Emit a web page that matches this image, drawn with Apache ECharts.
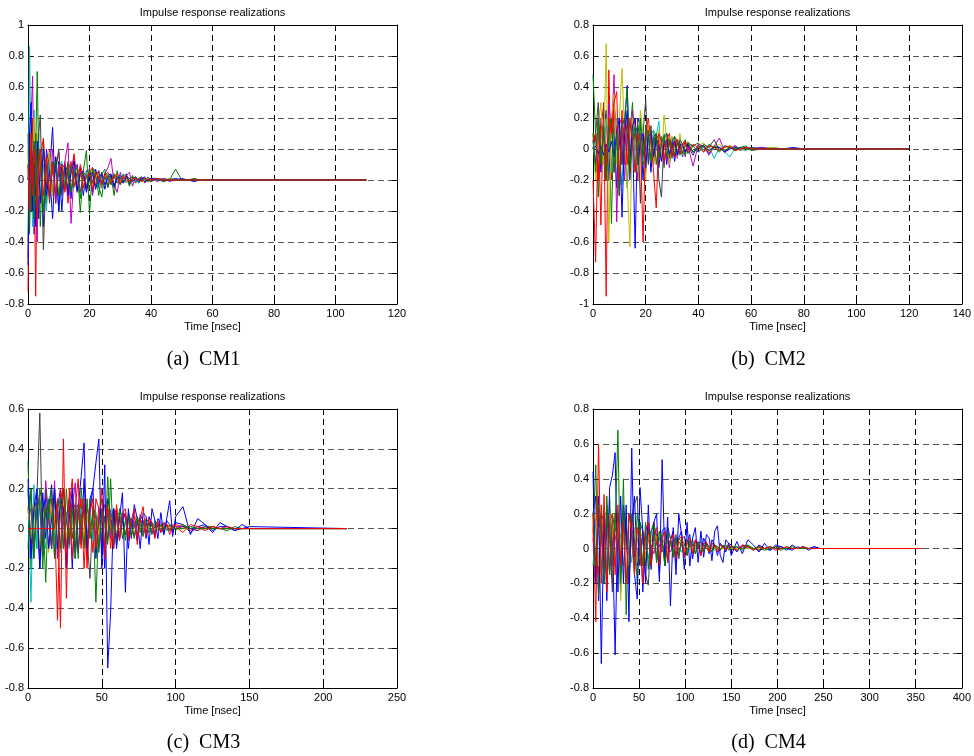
<!DOCTYPE html>
<html><head><meta charset="utf-8">
<script src="https://cdn.jsdelivr.net/npm/echarts/dist/echarts.min.js"></script>
<style>html,body{margin:0;padding:0;background:#fff}#c{width:974px;height:756px}</style>
</head><body><div id="c"></div>
<script>
// ---------- time grids (ns) ----------
const t_cm1 = [0,0.5,1,1.5,2,2.5,3,3.5,4,5,6,7,8,9,10,11,12,13,14,15,16,17,18,19,20,21,22,23,24,25,26,27,28,29,30,31,32,33,34,35,36,37,38,39,40,42,44,46,48,50,52,54,56,58,60,110];
const t_cm2 = [0,1,2,3,4,5,6,7,8,9,10,11,12,13,14,15,16,17,18,19,20,21,22,23,24,25,26,27,28,29,30,31,32,33,34,35,36,38,40,42,44,46,48,50,52,54,56,58,60,64,68,72,76,80,120];
const t_cm3 = [0,2,4,6,8,10,12,14,16,18,20,22,24,26,28,30,32,34,36,38,40,42,44,46,48,50,52,54,56,58,60,62,64,66,68,70,72,74,76,78,80,82,84,86,88,90,92,94,96,98,100,105,110,115,120,125,130,135,140,145,150,216];
const t_cm4 = [0,3,6,9,12,15,18,21,24,27,30,33,36,39,42,45,48,51,54,57,60,63,66,69,72,75,78,81,84,87,90,93,96,99,102,105,108,111,114,117,120,123,126,129,132,135,138,141,144,147,150,156,162,168,174,180,186,192,198,204,210,216,222,228,234,240,246,357];

// ---------- CM1 realizations ----------
const cm1_r1 = [0,.15,-.2,.3,-.35,.2,.1,-.25,.15,-.3,.2,.05,.34,-.15,.12,-.2,.1,.05,-.12,.15,-.05,.08,-.1,.06,.04,-.08,.07,-.03,.05,-.06,.03,.04,-.05,.02,.03,-.02,.04,-.03,.01,.02,-.02,.01,.02,-.01,.01,.01,-.01,.01,0,.01,0,-.01,0,0,0,0];
const cm1_r2 = [.1,-.2,.25,-.1,.35,.2,.7,.1,-.3,.25,-.15,.2,-.1,.15,-.2,.1,-.05,.12,-.08,.05,.1,-.12,.06,.19,-.22,.08,.05,-.1,.04,.07,-.05,.03,-.1,.06,-.03,.04,.02,-.04,.03,-.02,.01,.02,-.01,.02,-.01,.01,-.01,0,.07,0,0,.01,0,0,0,0];
const cm1_r3 = [-.72,.3,-.1,.4,.1,-.75,.2,-.1,.15,.27,-.05,.2,-.1,.1,.18,-.08,.12,-.15,.05,.17,-.06,.1,.02,-.07,.05,.08,-.04,.06,-.02,.03,.05,-.03,.02,.04,-.02,.01,.03,-.01,.02,0,.01,-.01,.01,0,.01,0,.01,0,0,0,0,0,0,0,0,0];
const cm1_r4 = [-.4,.86,.1,-.3,.45,-.2,.1,.3,-.15,.1,-.2,.15,.05,-.1,.08,.12,-.06,.04,.1,-.05,.03,.06,-.04,.05,-.02,.04,.03,-.05,.02,.03,-.02,.01,.04,-.01,.02,.01,-.02,.01,.02,0,-.01,.01,0,.01,0,0,.01,0,0,0,0,0,0,0,0,0];
const cm1_r5 = [-.5,.2,.4,.67,-.1,.3,-.4,.2,.1,-.2,.15,-.1,.2,-.15,.1,-.05,.12,.24,-.28,.05,.1,-.08,.04,-.05,.08,-.1,.03,.06,-.05,.04,.08,.14,-.03,-.08,.05,-.02,.03,.05,-.04,.02,-.01,.02,-.02,.01,.01,-.01,.01,-.01,0,0,0,0,0,0,0,0];
const cm1_r6 = [.2,-.3,.35,.15,.4,-.2,.3,-.1,.2,-.15,.1,.18,-.1,.08,-.12,.1,.05,-.08,.06,.1,-.04,.05,-.06,.03,.07,-.03,.02,.05,-.04,.02,.03,-.02,.01,.03,-.01,.02,-.02,.01,.01,0,.01,-.01,0,.01,0,0,0,.01,0,0,0,0,0,0,0,0];
const cm1_r7 = [0,.1,-.2,.15,.25,-.1,.1,.3,.42,-.45,.1,-.15,.12,.05,.2,-.1,.08,-.06,.1,.04,-.08,.06,.03,-.05,.07,-.02,.04,.05,-.03,.02,-.04,.03,.02,-.02,.01,.03,-.01,.01,.02,-.01,.01,0,.01,0,-.01,.01,0,0,0,0,0,0,0,0,0,0];
const cm1_r8 = [-.55,.3,.5,-.2,.1,-.3,.25,.1,-.15,.2,-.1,.05,-.25,.15,-.2,.1,.08,-.1,.05,.12,-.07,.04,.06,-.08,.03,.05,-.06,.02,.04,-.03,.02,.03,-.04,.02,.01,-.02,.02,.01,-.01,.01,0,.01,-.01,0,.01,0,0,0,.01,0,0,0,0,0,0,0];
const cm1_r9 = [.3,-.35,.2,.1,-.25,.3,-.15,.2,.1,-.2,.15,-.1,.08,.12,-.1,.06,-.05,.1,-.08,.04,.08,-.21,.05,.03,-.06,.07,.02,-.04,-.11,.05,.03,-.03,.04,.02,-.03,.01,.02,-.02,.01,.02,-.01,0,.01,-.01,0,.01,0,0,0,0,0,0,0,0,0,0];
const cm1_r10 = [.1,-.2,.3,-.1,.2,.15,-.25,.1,.2,-.1,.15,-.12,.1,-.1,.05,.1,-.08,.06,.12,-.04,.05,.07,-.05,.03,.04,-.06,.05,.02,-.03,.04,.01,-.02,.03,.01,-.02,.02,.01,-.01,.01,.01,0,-.01,.01,0,0,.01,0,0,0,0,0,0,0,0,0,0];

// ---------- CM2 realizations ----------
const cm2_r1 = [.05,-.1,.2,-.15,.1,.25,-.2,.15,.1,-.25,.2,-.1,.15,.41,-.2,.1,-.64,.2,.15,-.2,.1,.12,-.15,.08,.1,-.12,.05,.09,-.1,.06,.04,-.08,.06,.03,-.05,.04,.02,-.04,.03,.02,-.03,.02,.01,-.02,.01,.02,-.01,.01,0,.01,0,0,.01,0,0];
const cm2_r2 = [.48,.1,-.31,.15,.27,-.1,.2,-.48,.25,.1,-.3,.2,.15,-.25,.1,.3,-.15,.1,.2,-.1,.15,-.08,.1,.12,-.1,.05,.08,-.12,.1,.04,-.06,.08,.05,-.04,.03,.06,-.03,.02,.04,-.02,.03,.01,-.02,.02,.01,-.01,.01,.02,-.01,0,.01,0,0,0,0];
const cm2_r3 = [-.2,-.73,.2,-.49,.3,-.95,.51,-.2,.3,.1,-.3,.25,-.1,.2,-.15,.1,.2,-.2,.1,.05,-.15,.12,.08,-.1,.06,.1,-.08,.05,-.06,.04,.07,-.05,.03,.04,-.03,.02,.03,-.02,.02,.01,-.02,.01,.01,-.01,.01,0,.01,0,0,0,0,0,0,0,0];
const cm2_r4 = [0,.1,-.05,.15,-.1,.2,.05,-.15,.1,.2,-.1,-.23,.15,.1,-.12,.2,-.1,.05,.12,-.08,.1,.05,-.06,.12,.08,.18,-.05,.1,.06,-.04,.08,.03,-.05,.04,.02,-.03,.03,.02,-.02,.01,.02,-.06,.01,-.02,-.05,.01,0,-.01,.01,0,0,0,0,0,0];
const cm2_r5 = [.05,.1,-.15,.2,.1,-.2,.3,.1,.48,-.47,.2,.15,-.2,.1,-.1,.25,.05,-.15,.1,.08,-.1,.15,.05,-.08,.1,-.05,.06,-.1,.04,-.12,.05,.03,-.06,.04,-.03,.05,.02,-.11,.03,.02,-.04,.02,.07,-.02,.01,.02,-.01,.01,0,.01,0,0,0,0,0];
const cm2_r6 = [.1,-.2,.15,.3,-.1,.68,-.6,.2,.35,-.1,.2,.52,.1,-.2,-.63,.2,.1,-.15,.25,.1,-.2,.15,.05,-.1,.1,.12,-.08,.22,.05,-.1,.08,.06,-.05,.1,-.04,.03,.05,-.03,.02,.04,-.02,.01,.03,-.01,.02,.01,-.01,.01,0,0,.01,0,0,0,0];
const cm2_r7 = [0,.1,.3,-.1,.15,-.2,.1,.2,-.15,.1,.05,-.1,.2,.1,-.15,.05,.1,.15,-.35,.1,.32,-.1,.15,-.05,.1,-.2,-.31,.08,.1,-.06,.05,.08,-.04,.06,.03,-.05,.04,.02,-.02,.03,.01,.06,-.01,.02,.01,-.01,.01,0,.01,0,0,0,0,0,0];
const cm2_r8 = [0,.02,-.03,.02,-.04,.03,-.02,.05,-.05,.1,.2,-.44,.1,.25,-.1,.15,.2,-.1,.05,.1,-.12,.08,.1,-.05,.06,.03,-.08,.04,.06,-.03,.02,.05,-.04,.03,.02,-.02,.03,-.02,.01,.02,-.01,.01,.01,-.02,0,.01,0,.01,0,0,0,0,0,0,0];
const cm2_r9 = [.1,-.15,.2,-.1,.15,-.2,.1,.2,-.15,.1,-.3,.15,.2,.39,-.1,.05,.15,-.1,.2,-.05,.1,.12,-.08,.05,.1,-.06,.04,.08,-.05,.06,.03,-.04,.05,.02,-.03,.02,.04,-.02,.01,.02,-.01,.02,0,-.01,.01,0,.01,0,0,0,0,0,0,0,0];
const cm2_r10 = [.05,.1,-.2,.15,.1,-.1,.2,.1,.3,.37,-.2,.1,.15,-.1,.2,.05,-.15,.1,.05,-.6,.1,.2,.05,-.15,-.38,.1,.05,-.08,.06,.1,-.05,.04,.06,-.03,.02,.05,-.02,.03,.01,-.02,.02,.01,-.01,.01,.02,-.01,0,.01,0,0,0,0,0,0,0];

// ---------- CM3 realizations ----------
const cm3_r1 = [.2,-.1,.15,.1,-.2,.18,-.05,.1,.22,-.15,.1,.2,-.1,.05,.15,-.2,.1,.12,-.08,.25,-.1,.15,.2,-.15,.05,.1,-.2,.15,.08,-.1,.1,-.05,.08,.06,-.1,.05,.03,-.06,.07,.04,-.05,.06,.02,-.04,.05,.03,-.03,.04,.02,-.02,.03,.02,-.02,.01,.02,-.01,.01,.01,-.01,0,.01,0];
const cm3_r2 = [.34,-.2,.15,-.1,.2,.1,-.27,.15,-.1,.2,-.15,.1,.2,-.1,.15,-.05,.1,-.15,.2,.05,-.1,.15,.1,-.37,.05,.15,-.1,.26,-.05,.1,-.08,.1,.05,-.06,.08,.03,-.05,.06,.02,-.04,.05,.03,-.03,.04,.02,-.02,.03,-.01,.02,.01,-.01,.02,0,-.01,.01,.01,0,-.01,.01,0,0,0];
const cm3_r3 = [.1,-.1,.15,.05,-.12,.1,.08,-.1,.15,.05,-.46,.2,.1,-.15,.12,.25,-.1,.05,.15,-.2,.1,.05,-.12,.15,.1,-.08,.05,.12,-.1,.06,.1,-.06,.05,.08,-.05,.04,.06,-.03,.05,.02,-.03,.04,.02,-.02,.03,.01,-.02,.02,.01,-.01,.02,.01,-.01,.01,0,.01,0,0,0,0,0,0];
const cm3_r4 = [.21,-.37,.22,-.1,.15,.05,-.1,.08,.05,-.05,.15,-.12,.1,.08,-.1,.12,-.05,.08,.1,-.08,.05,.08,-.06,.04,.07,-.05,.03,.06,-.04,.02,.04,-.03,.02,.03,-.02,.01,.03,-.02,.01,.02,-.01,.01,.02,-.01,.01,0,.01,-.01,0,.01,0,0,.01,0,0,0,0,0,0,0,0,0];
const cm3_r5 = [.05,.1,-.15,.2,.1,-.1,.24,.05,-.1,.24,-.15,.1,.05,-.2,.15,.1,.23,-.1,.05,.12,-.1,.08,.15,-.05,.1,-.12,.06,.08,-.05,.1,.05,-.06,.04,.07,-.03,.05,.02,-.04,.03,.04,-.02,.03,.01,-.02,.02,.01,-.01,.02,0,-.01,.01,.01,0,-.01,.01,0,0,0,0,0,0,0];
const cm3_r6 = [.1,-.05,.12,.08,-.1,.05,.12,-.12,.1,.05,-.08,.1,.06,-.05,.08,.04,-.06,.1,.05,-.04,.06,-.05,.04,.07,-.03,.05,.02,-.04,.06,.03,-.03,.04,.02,-.02,.03,.01,-.02,.02,.01,-.01,.02,.01,-.01,.01,0,.01,-.01,0,.01,0,0,0,0,0,0,0,0,0,0,0,0,0];
const cm3_r7 = [.1,.2,-.1,.15,.58,-.14,.2,.05,-.1,.15,.1,-.1,.2,.05,-.08,.15,.1,-.12,.05,.1,-.05,-.25,.1,.05,-.1,.08,.12,-.06,.05,.1,-.05,.06,.04,-.03,.05,.02,-.04,.03,.05,-.02,.02,.03,-.02,.01,.02,-.01,.01,.01,-.01,.01,0,.01,0,0,.01,0,0,0,0,0,0,0];
const cm3_r8 = [.25,-.15,.1,.2,-.2,.1,.15,-.1,.05,.2,-.1,.15,.1,-.2,.05,.2,-.15,.1,.26,.43,-.15,.1,.2,.33,.45,-.2,.32,-.7,-.42,.1,-.1,.05,.18,-.32,.1,-.05,.12,.05,-.1,.08,.06,-.08,.1,.04,-.05,.08,-.03,.05,.14,-.04,.06,.11,-.03,.05,.02,-.02,.03,.01,-.01,.02,0,0];
const cm3_r9 = [-.1,.2,-.15,.1,.15,-.2,.1,.05,.2,-.15,.1,.15,-.1,.2,-.05,.1,-.15,.12,.05,-.1,.15,-.05,.1,.08,-.12,.1,.05,-.08,.25,-.1,.06,.08,-.05,.04,.06,-.04,.03,.05,-.02,.03,.02,-.02,.03,.01,-.01,.02,0,.01,-.01,.01,0,0,.01,0,0,0,0,0,0,0,0,0];
const cm3_r10 = [0,0,0,0,0,0,0,0,0,0,.15,-.5,.45,-.35,.2,-.15,.1,.25,-.1,.15,-.2,.1,.15,-.1,.05,.2,-.15,.1,.05,-.1,.12,-.05,.08,.1,-.06,.04,.1,-.08,.05,.11,-.04,.05,.03,-.05,.04,-.02,.03,.02,-.03,.02,.01,-.02,.02,.01,-.01,.01,0,.01,0,0,0,0];

// ---------- CM4 realizations ----------
const cm4_r1 = [.2,.3,-.3,.15,-.2,.25,-.15,.1,-.61,.2,-.15,.25,.1,-.2,.15,.3,-.1,.15,-.25,.1,.15,-.12,.1,.08,-.15,.1,.12,-.08,.05,.1,-.08,.06,.1,-.05,.04,.08,-.06,.05,.03,-.04,.06,.02,-.03,.05,.02,-.04,.03,.01,-.02,.03,.02,-.02,.02,.01,-.01,.02,0,-.01,.01,.01,0,-.01,.01,0,0,.01,0,0];
const cm4_r2 = [.1,.48,-.27,.2,.15,-.2,.3,-.1,.2,.15,-.25,.2,.1,-.15,.2,.05,-.2,.15,.1,-.1,.12,-.08,.15,.05,-.1,.08,.1,-.06,.05,.08,-.05,.06,.04,-.04,.05,.02,-.03,.04,.02,-.02,.03,.02,-.02,.03,.01,-.01,.02,.01,-.01,.02,.01,-.01,.01,.02,-.01,.01,0,.01,0,-.01,.01,0,0,.01,0,0,0,0];
const cm4_r3 = [.05,.2,-.15,.25,-.1,.15,.2,-.2,.1,.15,-.1,.12,.1,-.08,.15,-.05,.1,.08,-.1,.06,.08,-.05,.06,.04,-.06,.05,.03,-.04,.05,.02,-.03,.04,.02,-.02,.03,.01,-.02,.02,.01,-.01,.02,.01,-.01,.01,.01,0,-.01,.01,0,.01,0,0,.01,0,0,-.01,0,0,.01,0,0,0,0,0,0,0,0,0];
const cm4_r4 = [-.1,.15,.1,-.15,.2,-.1,.05,.15,-.1,.1,.08,-.1,.12,.05,-.08,.1,.06,-.05,.08,.04,-.06,.05,.03,-.04,.06,.02,-.03,.04,.02,-.02,.03,.01,-.02,.02,.01,-.01,.02,0,.01,-.01,.01,0,.01,0,-.01,.01,0,0,0,0,0,0,0,0,0,0,0,0,0,0,0,0,0,0,0,0,0,0];
const cm4_r5 = [.05,-.1,.15,.1,-.12,.08,.1,-.1,.05,.12,-.08,.06,.1,-.05,.08,.04,-.06,.07,.03,-.04,.05,.02,-.03,.04,.02,-.02,.03,.01,-.02,.02,.01,-.01,.02,0,-.01,.01,0,.01,0,0,0,0,0,0,0,0,0,0,0,0,0,0,0,0,0,0,0,0,0,0,0,0,0,0,0,0,0,0];
const cm4_r6 = [.1,.2,-.1,.15,.05,-.15,.2,.1,-.1,.15,-.3,.1,.15,-.1,.05,.12,-.08,.1,.06,-.05,.08,-.06,.05,.07,-.04,.03,.05,-.03,.02,.04,-.02,.03,.01,-.02,.02,.01,-.01,.01,.01,0,-.01,.01,0,.01,0,0,0,0,0,0,0,0,0,0,0,0,0,0,0,0,0,0,0,0,0,0,0,0];
const cm4_r7 = [.1,-.15,.2,.1,-.2,.15,.1,-.25,.2,.1,-.15,.2,.1,-.2,.15,.25,.3,-.1,.1,-.15,-.21,.1,.15,-.08,.1,.05,-.1,.12,.06,-.05,.08,-.06,.05,.07,-.04,.03,.05,-.03,.02,.04,-.02,.03,.01,-.02,.02,.01,-.01,.02,0,.01,-.01,.01,0,.01,0,-.01,0,.01,0,0,0,0,0,0,0,0,0,0];
const cm4_r8 = [.44,-.2,.3,-.66,.2,-.3,.35,.42,.55,-.25,.3,-.2,.25,-.42,.576,-.15,-.29,.35,.1,-.2,.25,-.1,.15,.2,-.19,.51,-.1,.18,-.33,.12,-.15,.2,.08,-.12,.15,-.1,.06,.12,-.08,.1,-.05,.08,.06,-.07,.1,.13,-.04,-.08,.05,.03,-.04,.04,-.03,.05,.02,-.02,.03,-.01,.02,.01,-.01,.02,0,.01,-.01,.01,0,0];
const cm4_r9 = [.2,-.1,.25,.15,-.2,.3,-.15,.2,.1,.68,-.2,.4,-.38,.2,.1,-.15,.2,.1,-.1,.15,-.12,.1,.13,-.08,.1,.05,-.1,.08,.06,-.05,.06,-.04,.05,.03,-.04,.05,.02,-.03,.04,.01,-.02,.03,.01,-.02,.02,.01,-.01,.01,.02,-.01,.01,.01,-.01,.02,0,.01,-.01,0,.01,0,0,.01,0,0,0,0,0,0];
const cm4_r10 = [.2,-.42,.6,-.2,.31,-.25,.15,.2,-.15,.25,-.1,.15,-.2,.2,.1,-.15,.12,.08,-.2,.1,.15,-.1,.08,.12,-.1,.06,.1,-.08,.05,.08,-.06,.05,.07,-.05,.04,.06,-.03,.05,.02,-.04,.03,.04,-.02,.03,.02,-.02,.02,.01,-.01,.02,.01,-.01,.02,.01,-.01,.01,0,.01,-.01,0,.01,0,0,.01,0,0,0,0];

// ---------- axis setup ----------
const COLORS = ['#0000FF','#008000','#FF0000','#00BFBF','#BF00BF','#BFBF00','#404040','#0000FF','#008000','#FF0000'];
const SANS = '"Liberation Sans", Arial, sans-serif';
const SERIF = '"Liberation Serif", "Times New Roman", serif';
const TITLE = 'Impulse response realizations';
const XNAME = 'Time [nsec]';
const CAPTIONS = ['(a)  CM1','(b)  CM2','(c)  CM3','(d)  CM4'];

const panels = [
  {box:[28,25,369,279], xMax:120, xInt:20, yMin:-0.8, yMax:1,   yInt:0.2, t:t_cm1, s:[cm1_r1,cm1_r2,cm1_r3,cm1_r4,cm1_r5,cm1_r6,cm1_r7,cm1_r8,cm1_r9,cm1_r10], capY:360},
  {box:[593,25,369,279], xMax:140, xInt:20, yMin:-1,  yMax:0.8, yInt:0.2, t:t_cm2, s:[cm2_r1,cm2_r2,cm2_r3,cm2_r4,cm2_r5,cm2_r6,cm2_r7,cm2_r8,cm2_r9,cm2_r10], capY:360},
  {box:[28,409,369,279], xMax:250, xInt:50, yMin:-0.8, yMax:0.6, yInt:0.2, t:t_cm3, s:[cm3_r1,cm3_r2,cm3_r3,cm3_r4,cm3_r5,cm3_r6,cm3_r7,cm3_r8,cm3_r9,cm3_r10], capY:743},
  {box:[593,409,369,279], xMax:400, xInt:50, yMin:-0.8, yMax:0.8, yInt:0.2, t:t_cm4, s:[cm4_r1,cm4_r2,cm4_r3,cm4_r4,cm4_r5,cm4_r6,cm4_r7,cm4_r8,cm4_r9,cm4_r10], capY:743}
];

const grid = [], xAxis = [], yAxis = [], series = [], graphic = [];
const lbl = v => String(+(+v).toFixed(1));
panels.forEach((p, i) => {
  const [L, T, W, H] = p.box;
  grid.push({left:L, top:T, width:W, height:H, containLabel:false});
  const tick = {show:true, inside:true, length:5, lineStyle:{color:'#000', width:1}};
  const line = {show:true, onZero:false, lineStyle:{color:'#000', width:1}};
  xAxis.push({gridIndex:i, type:'value', min:0, max:p.xMax, interval:p.xInt, position:'bottom',
    axisLine:line, axisTick:tick,
    axisLabel:{show:true, margin:4, color:'#000', fontSize:11, fontFamily:SANS, formatter:lbl},
    splitLine:{show:true, lineStyle:{color:'#000', width:1, type:[6,4]}}});
  xAxis.push({gridIndex:i, type:'value', min:0, max:p.xMax, interval:p.xInt, position:'top',
    axisLine:line, axisTick:tick, axisLabel:{show:false}, splitLine:{show:false}});
  yAxis.push({gridIndex:i, type:'value', min:p.yMin, max:p.yMax, interval:p.yInt, position:'left',
    axisLine:line, axisTick:tick,
    axisLabel:{show:true, margin:4, color:'#000', fontSize:11, fontFamily:SANS, formatter:lbl},
    splitLine:{show:true, lineStyle:{color:'#555', width:1, type:[6,4]}}});
  yAxis.push({gridIndex:i, type:'value', min:p.yMin, max:p.yMax, interval:p.yInt, position:'right',
    axisLine:line, axisTick:tick, axisLabel:{show:false}, splitLine:{show:false}});
  p.s.forEach((vals, k) => {
    const data = [];
    for (let j = 0; j < vals.length && j < p.t.length; j++) data.push([p.t[j], vals[j]]);
    series.push({type:'line', xAxisIndex:2*i, yAxisIndex:2*i, data, symbol:'none', showSymbol:false,
      silent:true, animation:false, clip:true,
      lineStyle:{color:COLORS[k], width:1}, itemStyle:{color:COLORS[k]}});
  });
  const cx = L + W / 2;
  graphic.push({type:'text', x:cx, y:T - 12.5, silent:true, style:{text:TITLE, fill:'#000', font:'11px ' + SANS, align:'center', verticalAlign:'middle', textAlign:'center', textVerticalAlign:'middle'}});
  graphic.push({type:'text', x:cx, y:T + H + 23, silent:true, style:{text:XNAME, fill:'#000', font:'11px ' + SANS, align:'center', verticalAlign:'middle', textAlign:'center', textVerticalAlign:'middle'}});
  graphic.push({type:'text', x:cx - 9, y:p.capY, silent:true, style:{text:CAPTIONS[i], fill:'#000', font:'20px ' + SERIF, align:'center', verticalAlign:'middle', textAlign:'center', textVerticalAlign:'middle'}});
});

const chart = echarts.init(document.getElementById('c'), null, {renderer:'canvas'});
chart.setOption({backgroundColor:'#fff', animation:false, grid, xAxis, yAxis, series, graphic});
</script>
</body></html>
